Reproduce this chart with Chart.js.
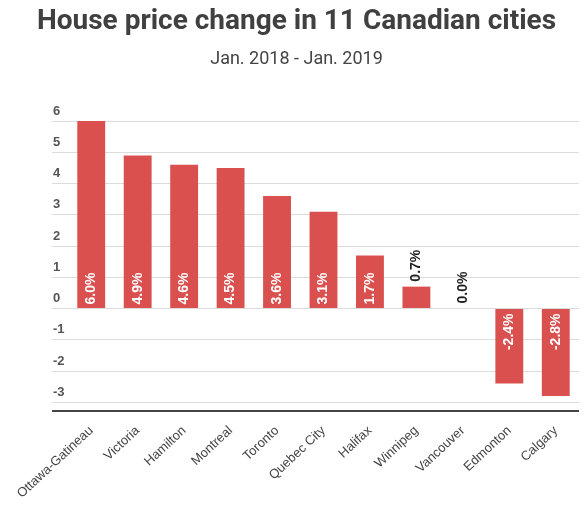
<!DOCTYPE html>
<html>
<head>
<meta charset="utf-8">
<script src="https://cdn.jsdelivr.net/npm/chart.js@4"></script>
<style>
  html, body { margin: 0; padding: 0; background: #fff; }
  #wrap { width: 584px; height: 517px; position: relative; }
</style>
</head>
<body>
<div id="wrap"><canvas id="c"></canvas></div>
<script>
const cities = ["Ottawa-Gatineau", "Victoria", "Hamilton", "Montreal", "Toronto", "Quebec City", "Halifax", "Winnipeg", "Vancouver", "Edmonton", "Calgary"];
const priceChange = [6.0, 4.9, 4.6, 4.5, 3.6, 3.1, 1.7, 0.7, 0.0, -2.4, -2.8];
const yTickValues = [-3, -2, -1, 0, 1, 2, 3, 4, 5, 6];
const titleText = "House price change in 11 Canadian cities";
const subtitleText = "Jan. 2018 - Jan. 2019";

const Y_MIN = -3.28, Y_MAX = 6;
const BAR_COLOR = '#d9504f';

const valueLabels = {
  id: 'valueLabels',
  afterDatasetsDraw(chart) {
    const ctx = chart.ctx;
    const meta = chart.getDatasetMeta(0);
    const yScale = chart.scales.y;
    const zero = yScale.getPixelForValue(0);
    ctx.save();
    ctx.font = 'bold 14px "Liberation Sans", Arial, sans-serif';
    ctx.textBaseline = 'middle';
    meta.data.forEach((bar, i) => {
      const v = priceChange[i];
      const txt = v.toFixed(1) + '%';
      let y, align, color;
      if (v >= 1) { y = zero - 4; align = 'left'; color = '#ffffff'; }
      else if (v < 0) { y = zero + 5; align = 'right'; color = '#ffffff'; }
      else { y = yScale.getPixelForValue(v) - 5; align = 'left'; color = '#222'; }
      ctx.save();
      ctx.translate(bar.x, y);
      ctx.rotate(-Math.PI / 2);
      ctx.textAlign = align;
      ctx.fillStyle = color;
      ctx.fillText(txt, 0, 0);
      ctx.restore();
    });
    ctx.restore();
  }
};

new Chart(document.getElementById('c'), {
  type: 'bar',
  data: {
    labels: cities,
    datasets: [{
      data: priceChange,
      backgroundColor: BAR_COLOR,
      borderWidth: 0,
      categoryPercentage: 1.0,
      barPercentage: 0.6
    }]
  },
  options: {
    responsive: true,
    maintainAspectRatio: false,
    animation: false,
    devicePixelRatio: 1,
    layout: { padding: { left: 14, right: 5, top: 0, bottom: 0 } },
    plugins: {
      legend: { display: false },
      tooltip: { enabled: false },
      title: {
        display: true,
        text: titleText,
        color: '#404040',
        font: { family: 'Roboto', size: 28, weight: 'bold', lineHeight: 1.2 },
        padding: { top: 5, bottom: 9.6 }
      },
      subtitle: {
        display: true,
        text: subtitleText,
        color: '#444',
        font: { family: 'Roboto', size: 18, weight: 'normal', lineHeight: 1.2 },
        padding: { top: 0, bottom: 51.2 }
      }
    },
    scales: {
      x: {
        grid: { display: false },
        border: { display: false },
        ticks: {
          color: '#444',
          font: { family: '"Liberation Sans", Arial, sans-serif', size: 13 },
          minRotation: 43,
          maxRotation: 43,
          autoSkip: false,
          padding: 4
        },
        afterFit(scale) { scale.height = 106; }
      },
      y: {
        min: Y_MIN,
        max: Y_MAX,
        afterBuildTicks(scale) {
          scale.ticks = [{ value: Y_MIN }].concat(yTickValues.map(v => ({ value: v })));
        },
        afterFit(scale) { scale.width = 54; },
        border: { display: false },
        grid: {
          drawTicks: true,
          tickLength: 16,
          color: (c) => (c.tick && c.tick.value === Y_MIN) ? '#444' : '#dcdcdc',
          tickColor: (c) => (c.tick && c.tick.value === Y_MIN) ? '#444' : '#dcdcdc',
          lineWidth: (c) => (c.tick && c.tick.value === Y_MIN) ? 2 : 1,
          tickWidth: (c) => (c.tick && c.tick.value === Y_MIN) ? 2 : 1
        },
        ticks: {
          mirror: true,
          padding: -15,
          labelOffset: -10,
          crossAlign: 'near',
          color: '#555',
          font: { family: '"Liberation Sans", Arial, sans-serif', size: 13, weight: 'bold' },
          callback: (v) => (v === Y_MIN ? '' : String(v))
        }
      }
    }
  },
  plugins: [valueLabels]
});
</script>
</body>
</html>
